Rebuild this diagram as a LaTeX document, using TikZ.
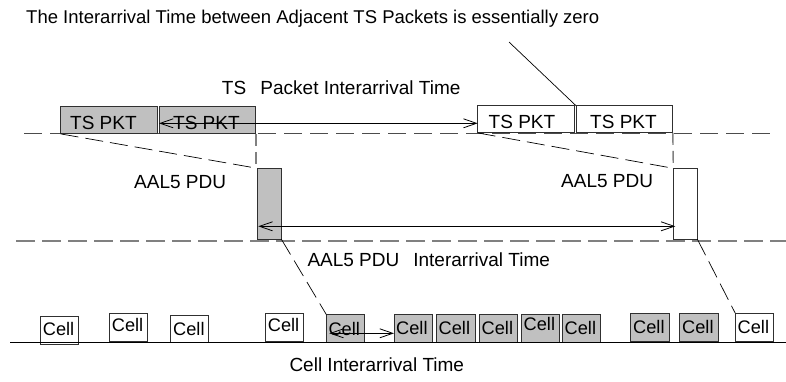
\documentclass[tikz,border=0pt]{standalone}
\usepackage{fontspec}
\setmainfont{Liberation Sans}
\usetikzlibrary{arrows.meta}
\definecolor{pktgray}{HTML}{C0C0C0}
\definecolor{lanegray}{HTML}{808080}
\definecolor{edgegray}{HTML}{303030}
\begin{document}
\begin{tikzpicture}[x=1pt,y=-1pt,
  lbl/.style={inner sep=0pt,anchor=base west,font=\fontsize{19}{22}\selectfont},
  celltxt/.style={inner sep=0pt,anchor=base west,font=\fontsize{18.2}{21}\selectfont},
  boxbase/.style={draw=edgegray,line width=0.9pt,inner sep=0pt,outer sep=0pt,anchor=north west},
  tsbox/.style={boxbase,minimum width=96.8pt,minimum height=27.2pt},
  pdubox/.style={boxbase,minimum width=24pt,minimum height=70.8pt},
  cellbox/.style={boxbase,minimum width=38.6pt,minimum height=27.8pt},
  full/.style={fill=pktgray},
  empty/.style={fill=white},
  lane/.style={draw=lanegray,line width=2pt,dash pattern=on 19pt off 7pt},
  toplane/.style={draw=black!70,line width=1.1pt,dash pattern=on 18pt off 8pt},
  drop/.style={draw=lanegray,line width=1.4pt,dash pattern=on 12pt off 6pt},
  fan/.style={draw=black,line width=0.7pt,dash pattern=on 18pt off 7pt},
  span/.style={draw=black,line width=0.8pt,{Straight Barb[length=13pt,width=9pt,line width=0.8pt]}-{Straight Barb[length=13pt,width=9pt,line width=0.8pt]}},
]
\useasboundingbox (0,0) rectangle (786,381);

% lane separators
\coordinate (tl0) at (24,133.5);
\coordinate (tl1) at (777,133.5);
\coordinate (bl0) at (16,241);
\coordinate (bl1) at (786,241);
\draw[toplane] (tl0) -- (tl1);
\draw[lane] (bl0) -- (bl1);

% TS packets
\node[tsbox,full]  (ts1) at (60.7,106.7) {};
\node[tsbox,full]  (ts2) at (159,106.7) {};
\node[tsbox,empty] (ts3) at (477.7,105.7) {};
\node[tsbox,empty] (ts4) at (576,105.7) {};
\node[lbl] (ts1t) at (70,129) {TS PKT};
\node[lbl] (ts2t) at (173,129) {TS PKT};
\node[lbl] (ts3t) at (488.5,128.3) {TS PKT};
\node[lbl] (ts4t) at (590,128.3) {TS PKT};

% AAL5 PDUs
\node[pdubox,full]  (pdu1) at (257.3,168.3) {};
\node[pdubox,empty] (pdu2) at (673.3,168.3) {};
\node[lbl] (pdu1t) at (134,188.3) {AAL5 PDU};
\node[lbl] (pdu2t) at (561,187.8) {AAL5 PDU};

% cells on the link
\node[cellbox,empty] (c1)  at (40,316.7) {};
\node[cellbox,empty] (c2)  at (109.3,313.3) {};
\node[cellbox,empty] (c3)  at (170.3,315) {};
\node[cellbox,empty] (c4)  at (265.3,313.3) {};
\node[cellbox,full]  (c5)  at (326.3,314.5) {};
\node[cellbox,full]  (c6)  at (394,314.3) {};
\node[cellbox,full]  (c7)  at (436.5,314.3) {};
\node[cellbox,full]  (c8)  at (479.3,314.3) {};
\node[cellbox,full]  (c9)  at (521.3,314.3) {};
\node[cellbox,full]  (c10) at (562,314.3) {};
\node[cellbox,full]  (c11) at (630.7,313.3) {};
\node[cellbox,full]  (c12) at (679.7,313.3) {};
\node[cellbox,empty] (c13) at (735.3,313.3) {};
\node[celltxt] at (42.7,335) {Cell};
\node[celltxt] at (111.7,331.7) {Cell};
\node[celltxt] at (173,335) {Cell};
\node[celltxt] at (267.7,331.7) {Cell};
\node[celltxt] at (328.3,335) {Cell};
\node[celltxt] at (396,334.3) {Cell};
\node[celltxt] at (438.5,334.3) {Cell};
\node[celltxt] at (481.5,334.3) {Cell};
\node[celltxt] at (523.5,330.5) {Cell};
\node[celltxt] at (564.5,334.3) {Cell};
\node[celltxt] at (633,333.3) {Cell};
\node[celltxt] at (682,333.3) {Cell};
\node[celltxt] at (737.5,333.3) {Cell};

% link baseline
\coordinate (link0) at (10,342);
\coordinate (link1) at (786,342);
\draw[line width=0.9pt] (link0) -- (link1);

% packets mapped into PDUs, PDUs into cells
\draw[fan] (ts1.south west) -- (pdu1.north west);
\draw[fan] (ts3.south west) -- (pdu2.north west);
\draw[drop] (ts2.south east) -- (pdu1.north west -| ts2.south east);
\draw[drop] (ts4.south east) -- (pdu2.north west);
\draw[fan] (pdu1.south east) -- (c5.north west);
\draw[fan] (pdu2.south east) -- (c13.north west);

% interarrival spans
\draw[span] (ts2.west |- 0,123.3) -- (ts3.west |- 0,123.3);
\draw[span] ([xshift=1pt]pdu1.west |- 0,226.3) -- ([xshift=2pt]pdu2.west |- 0,226.3);
\draw[span] ([xshift=3pt]c5.west |- 0,333.3) -- (c6.west |- 0,333.3);

% labels
\node[lbl,font=\fontsize{18.5}{22}\selectfont] (note) at (26,23) {The Interarrival Time between Adjacent TS Packets is essentially zero};
\coordinate (notefoot) at (509,42);
\draw[line width=0.7pt] (notefoot) -- (ts4.north west);
\node[lbl] (tsia) at (221.7,94.3) {TS\hspace{14.3pt}Packet Interarrival Time};
\node[lbl] (pduia) at (307.3,266.7) {AAL5 PDU\hspace{14pt}Interarrival Time};
\node[lbl] (cellia) at (289.3,371.7) {Cell Interarrival Time};
\end{tikzpicture}
\end{document}
